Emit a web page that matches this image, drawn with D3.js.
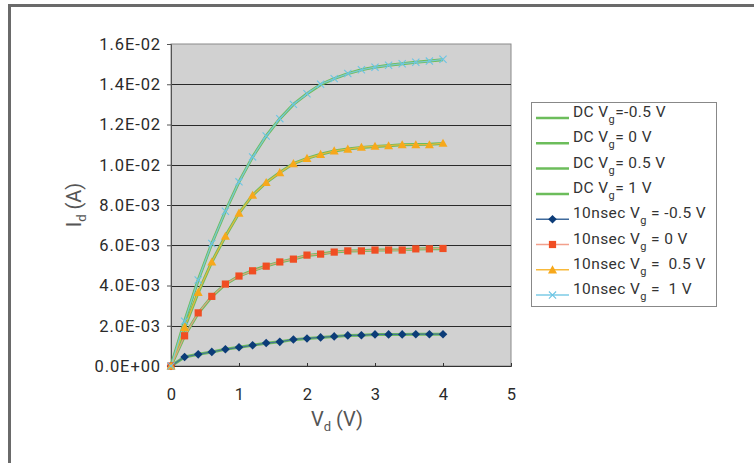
<!DOCTYPE html>
<html><head><meta charset="utf-8">
<script src="https://cdn.jsdelivr.net/npm/d3@7/dist/d3.min.js"></script>
<style>
body{margin:0;background:#fff;}
svg{display:block;}
text{font-family:Roboto, "DejaVu Sans", sans-serif;}
</style></head>
<body><svg id="c" width="754" height="463"></svg>
<script>
const vd = [0,0.2,0.4,0.6,0.8,1.0,1.2,1.4,1.6,1.8,2.0,2.2,2.4,2.6,2.8,3.0,3.2,3.4,3.6,3.8,4.0];
// DC series (A)
const dcM05 = [0,0.00045,0.00058,0.00070,0.00083,0.00093,0.00103,0.00113,0.00121,0.00131,0.00137,0.00142,0.00147,0.00151,0.00153,0.00156,0.00157,0.00157,0.00158,0.00158,0.00158];
const dc0   = [0,0.00150,0.00262,0.00345,0.00407,0.00447,0.00474,0.00497,0.00516,0.00532,0.00549,0.00557,0.00566,0.00571,0.00573,0.00576,0.00577,0.00578,0.00581,0.00582,0.00583];
const dc05  = [0,0.00190,0.00365,0.00517,0.00645,0.00760,0.00849,0.00912,0.00961,0.01006,0.01032,0.01052,0.01068,0.01078,0.01086,0.01091,0.01095,0.01099,0.01101,0.01102,0.01106];
const dc1   = [0,0.00222,0.00427,0.00609,0.00769,0.00915,0.01039,0.01143,0.01229,0.01300,0.01353,0.01398,0.01428,0.01453,0.01472,0.01485,0.01494,0.01502,0.01509,0.01515,0.01522];
// 10 nsec pulsed series (A)
const nsM05 = [0,0.00045,0.00058,0.00070,0.00083,0.00093,0.00103,0.00114,0.00120,0.00132,0.00137,0.00142,0.00147,0.00152,0.00153,0.00157,0.00157,0.00157,0.00158,0.00158,0.00158];
const ns0   = [0,0.00150,0.00264,0.00346,0.00407,0.00447,0.00473,0.00496,0.00517,0.00531,0.00551,0.00556,0.00566,0.00572,0.00572,0.00576,0.00576,0.00576,0.00582,0.00582,0.00584];
const ns05  = [0,0.00192,0.00366,0.00517,0.00645,0.00760,0.00849,0.00912,0.00961,0.01006,0.01032,0.01052,0.01069,0.01078,0.01087,0.01092,0.01095,0.01100,0.01100,0.01100,0.01107];
const ns1   = [0,0.00223,0.00427,0.00609,0.00769,0.00915,0.01039,0.01143,0.01229,0.01300,0.01353,0.01400,0.01428,0.01453,0.01472,0.01485,0.01494,0.01502,0.01509,0.01515,0.01524];

const xTicks = [0,1,2,3,4,5];
const yTicks = [0,0.002,0.004,0.006,0.008,0.010,0.012,0.014,0.016];

const dcNames = ["-0.5 V","0 V","0.5 V","1 V"];
const nsNames = ["-0.5 V","0 V","0.5 V","1 V"];

const svg = d3.select("#c");
const x = d3.scaleLinear().domain([0,5]).range([171,511]);
const y = d3.scaleLinear().domain([0,0.016]).range([366,44]);

// outer frame (top & left)
svg.append("line").attr("x1",9.5).attr("x2",754).attr("y1",5.5).attr("y2",5.5).attr("stroke","#6a6a6a").attr("stroke-width",3);
svg.append("line").attr("x1",9.5).attr("x2",9.5).attr("y1",4).attr("y2",463).attr("stroke","#6a6a6a").attr("stroke-width",3);

// plot area
svg.append("rect").attr("x",x(0)).attr("y",y(0.016)).attr("width",x(5)-x(0)).attr("height",y(0)-y(0.016))
  .attr("fill","#d1d1d1").attr("stroke","#8a8a8a").attr("stroke-width",1);

// gridlines
svg.append("g").selectAll("line").data(yTicks.slice(1,-1)).join("line")
  .attr("x1",x(0)).attr("x2",x(5)).attr("y1",d=>Math.round(y(d))+0.5).attr("y2",d=>Math.round(y(d))+0.5)
  .attr("stroke","#2a2a2a").attr("stroke-width",1);

const fmtE = v => { const s = v.toExponential(1).toUpperCase(); const m = s.match(/^(.*)E([+-])(\d+)$/); return m[1]+"E"+m[2]+m[3].padStart(2,"0"); };

// y axis
const ya = svg.append("g").attr("transform",`translate(${x(0)},0)`)
  .call(d3.axisLeft(y).tickValues(yTicks).tickFormat(fmtE).tickSize(4).tickPadding(6));
ya.select(".domain").attr("stroke","#555");
ya.selectAll(".tick line").attr("stroke","#555");
ya.selectAll("text").attr("font-size",16.5).attr("fill","#2a2a2a").attr("letter-spacing","0.9px").attr("font-family","Roboto, sans-serif");

// x axis
const xa = svg.append("g").attr("transform",`translate(0,${y(0)})`)
  .call(d3.axisBottom(x).tickValues(xTicks).tickFormat(d3.format("d")).tickSize(-3).tickPadding(22));
xa.select(".domain").attr("stroke","#333");
xa.selectAll(".tick line").attr("stroke","#333");
xa.selectAll("text").attr("font-size",16.5).attr("fill","#2a2a2a").attr("font-family","Roboto, sans-serif");

// axis titles
const xt = svg.append("text").attr("x",337).attr("y",426).attr("text-anchor","middle").attr("font-size",20).attr("fill","#555");
xt.append("tspan").text("V");
xt.append("tspan").attr("font-size",13).attr("dy",5).text("d");
xt.append("tspan").attr("dy",-5).text(" (V)");
const yt = svg.append("text").attr("transform","translate(81,205) rotate(-90)").attr("text-anchor","middle").attr("font-size",20).attr("fill","#555");
yt.append("tspan").text("I");
yt.append("tspan").attr("font-size",13).attr("dy",5).text("d");
yt.append("tspan").attr("dy",-5).text(" (A)");

const dcData = [dcM05,dc0,dc05,dc1];
const nsData = [nsM05,ns0,ns05,ns1];
const nsLine = ["#3f6a9c","#f3a08c","#f8b93a","#7ccbe6"];
const nsMark = ["#0c3c78","#f04e23","#f7a81b","#6cc5e4"];
const markType = ["diamond","square","triangle","x"];
const green = "#6cbd5b";

const line = d3.line().x((d,i)=>x(vd[i])).y(d=>y(d));
const plot = svg.append("g");
dcData.forEach(s=>{
  plot.append("path").attr("d",line(s)).attr("fill","none").attr("stroke",green).attr("stroke-width",3);
});
nsData.forEach((s,k)=>{
  plot.append("path").attr("d",line(s)).attr("fill","none").attr("stroke",nsLine[k]).attr("stroke-width",1.3).attr("opacity",0.85);
});

function drawMarker(g, type, cx, cy, col, scale){
  scale = scale||1;
  if(type==="diamond"){
    const r=4.3*scale;
    g.append("path").attr("d",`M${cx},${cy-r}L${cx+r},${cy}L${cx},${cy+r}L${cx-r},${cy}Z`).attr("fill",col);
  } else if(type==="square"){
    const r=3.6*scale;
    g.append("rect").attr("x",cx-r).attr("y",cy-r).attr("width",2*r).attr("height",2*r).attr("fill",col);
  } else if(type==="triangle"){
    const r=4.5*scale;
    g.append("path").attr("d",`M${cx},${cy-r}L${cx+r},${cy+r*0.8}L${cx-r},${cy+r*0.8}Z`).attr("fill",col);
  } else {
    const r=3.6*scale;
    g.append("path").attr("d",`M${cx-r},${cy-r}L${cx+r},${cy+r}M${cx-r},${cy+r}L${cx+r},${cy-r}`).attr("stroke",col).attr("stroke-width",1.1);
  }
}
nsData.forEach((s,k)=>{
  const g = plot.append("g");
  s.forEach((v,i)=>drawMarker(g, markType[k], x(vd[i]), y(v), nsMark[k]));
});

// legend
const lg = svg.append("g");
lg.append("rect").attr("x",531.5).attr("y",102.5).attr("width",185).attr("height",204).attr("fill","#fff").attr("stroke","#888");
const entries = [];
dcNames.forEach((n,k)=>entries.push({pre:"DC V", sub:"g", post:(k===0?"=":"= ")+n, dc:true, k}));
nsNames.forEach((n,k)=>entries.push({pre:"10nsec V", sub:"g", post:(k>=2?" =  ":" = ")+n, dc:false, k}));
entries.forEach((e,i)=>{
  const ly = 118 + i*25.3;
  if(e.dc){
    lg.append("line").attr("x1",536).attr("x2",569).attr("y1",ly).attr("y2",ly).attr("stroke",green).attr("stroke-width",2.5);
  } else {
    lg.append("line").attr("x1",536).attr("x2",569).attr("y1",ly).attr("y2",ly).attr("stroke",nsLine[e.k]).attr("stroke-width",1.5);
    drawMarker(lg, markType[e.k], 552.5, ly, nsMark[e.k]);
  }
  const t = lg.append("text").attr("x",573).attr("y",ly-1).attr("font-size",15.5).attr("letter-spacing","0.4px").attr("fill","#333").attr("xml:space","preserve").style("white-space","pre");
  t.append("tspan").text(e.pre);
  t.append("tspan").attr("font-size",11).attr("dy",6).text(e.sub);
  t.append("tspan").attr("dy",-6).text(e.post);
});
</script></body></html>
